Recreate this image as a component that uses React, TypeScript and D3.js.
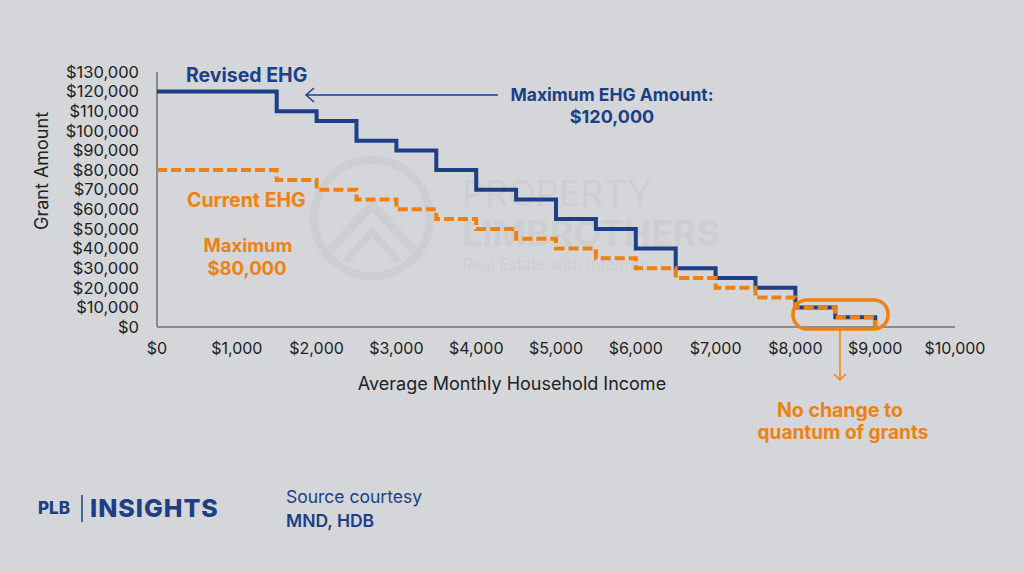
import React from "react";
import * as d3 from "d3";

const incomeBreaks = [0, 1500, 2000, 2500, 3000, 3500, 4000, 4500, 5000, 5500, 6000, 6500, 7000, 7500, 8000, 8500, 9000];
const revisedEHG = [120000, 110000, 105000, 95000, 90000, 80000, 70000, 65000, 55000, 50000, 40000, 30000, 25000, 20000, 10000, 5000, 0];
const currentEHG = [80000, 75000, 70000, 65000, 60000, 55000, 50000, 45000, 40000, 35000, 30000, 25000, 20000, 15000, 10000, 5000, 0];
const xTicks = [0, 1000, 2000, 3000, 4000, 5000, 6000, 7000, 8000, 9000, 10000];
const yTicks = [0, 10000, 20000, 30000, 40000, 50000, 60000, 70000, 80000, 90000, 100000, 110000, 120000, 130000];

const W = 1024;
const H = 571;
const BG = "#d4d6d9";
const BLUE = "#1d3f85";
const ORANGE = "#ef8113";
const FONT = "Inter, 'Open Sans', sans-serif";

export default function App() {
  const x = d3.scaleLinear().domain([0, 10000]).range([157, 955]);
  const y = d3.scaleLinear().domain([0, 130000]).range([327, 72]);
  const fmt = (v: number) => "$" + d3.format(",")(v);

  const line = d3
    .line<number>()
    .x((_, i) => x(incomeBreaks[i]))
    .y((d) => y(d))
    .curve(d3.curveStepAfter);

  const revPath = line(revisedEHG) || "";
  const curPath = line(currentEHG) || "";

  return (
    <svg width={W} height={H} style={{ display: "block", position: "absolute", left: 0, top: 0 }} fontFamily={FONT}>
      <rect x={0} y={0} width={W} height={H} fill={BG} />

      {/* watermark */}
      <g opacity={0.03} fill="#000" stroke="#000">
        <circle cx={372} cy={218} r={58} fill="none" strokeWidth={8} />
        <path d="M330 250 L372 205 L414 250" fill="none" strokeWidth={9} />
        <path d="M345 262 L372 232 L399 262" fill="none" strokeWidth={7} />
        <text x={462} y={206} fontSize={36} stroke="none">PROPERTY</text>
        <text x={462} y={246} fontSize={36} fontWeight={700} stroke="none">LIMBROTHERS</text>
        <text x={462} y={270} fontSize={16} stroke="none">Real Estate with Integrity</text>
      </g>

      {/* axes */}
      <line x1={x(0)} x2={x(0)} y1={y(130000)} y2={y(0)} stroke="#707274" strokeWidth={1.5} />
      <line x1={x(0)} x2={x(10000)} y1={y(0)} y2={y(0)} stroke="#707274" strokeWidth={1.5} />

      {yTicks.map((t) => (
        <text key={t} x={139} y={y(t)} dy="0.35em" textAnchor="end" fontSize={16.5} fill="#222">
          {fmt(t)}
        </text>
      ))}
      {xTicks.map((t) => (
        <text key={t} x={x(t)} y={354} textAnchor="middle" fontSize={16} fill="#222">
          {fmt(t)}
        </text>
      ))}

      <text x={512} y={390} textAnchor="middle" fontSize={18} fill="#222">Average Monthly Household Income</text>
      <text transform={`translate(48,171) rotate(-90)`} textAnchor="middle" fontSize={18} fill="#222">Grant Amount</text>

      {/* lines */}
      <path d={revPath} fill="none" stroke={BLUE} strokeWidth={4} />
      <path d={curPath} fill="none" stroke={ORANGE} strokeWidth={4} strokeDasharray="10 4" />

      {/* annotations */}
      <text x={186} y={82} fontSize={19.5} fontWeight={700} fill={BLUE}>Revised EHG</text>
      <line x1={498} x2={306} y1={95} y2={95} stroke={BLUE} strokeWidth={1.5} />
      <path d="M314 88 L306 95 L314 102" fill="none" stroke={BLUE} strokeWidth={1.5} />
      <text x={612} y={101} textAnchor="middle" fontSize={17.5} fontWeight={700} fill={BLUE}>Maximum EHG Amount:</text>
      <text x={612} y={123} textAnchor="middle" fontSize={18} fontWeight={700} fill={BLUE}>$120,000</text>

      <text x={187} y={207} fontSize={19.5} fontWeight={700} fill={ORANGE}>Current EHG</text>
      <text x={248} y={252} textAnchor="middle" fontSize={18.5} fontWeight={700} fill={ORANGE}>Maximum</text>
      <text x={247} y={275} textAnchor="middle" fontSize={18.5} fontWeight={700} fill={ORANGE}>$80,000</text>

      <rect x={793} y={300} width={95} height={29} rx={14} fill="none" stroke={ORANGE} strokeWidth={3.5} />
      <line x1={840} x2={840} y1={329} y2={380} stroke={ORANGE} strokeWidth={1.5} />
      <path d="M834 374 L840 380 L846 374" fill="none" stroke={ORANGE} strokeWidth={1.5} />
      <text x={840} y={417} textAnchor="middle" fontSize={19.5} fontWeight={700} fill={ORANGE}>No change to</text>
      <text x={843} y={439} textAnchor="middle" fontSize={19} fontWeight={700} fill={ORANGE}>quantum of grants</text>

      {/* footer */}
      <text x={38} y={514} fontSize={17} fontWeight={800} fill={BLUE}>PLB</text>
      <line x1={82} x2={82} y1={495} y2={522} stroke={BLUE} strokeWidth={1.5} />
      <text x={90} y={517} fontSize={25} fontWeight={800} fill={BLUE} letterSpacing={1}>INSIGHTS</text>
      <text x={286} y={503} fontSize={17.5} fill={BLUE}>Source courtesy</text>
      <text x={286} y={527} fontSize={17.5} fontWeight={600} fill={BLUE}>MND, HDB</text>
    </svg>
  );
}
